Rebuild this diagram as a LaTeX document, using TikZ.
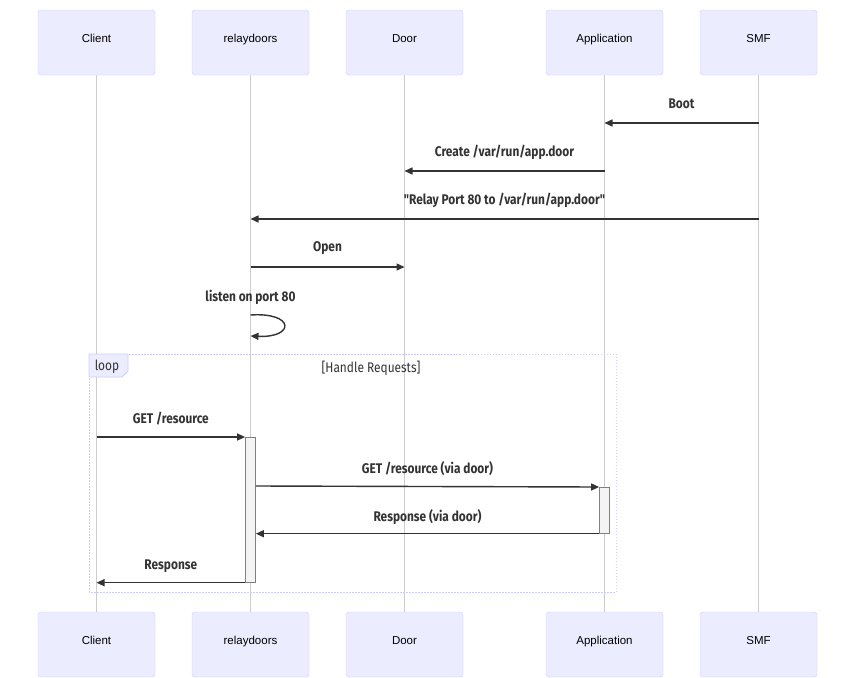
\documentclass[tikz,border=0pt]{standalone}
\usepackage{fontspec}
\setmainfont{Liberation Sans}
\newfontfamily\msgfont[FakeStretch=0.85]{Fira Sans}
\usepackage{tikz}
\usetikzlibrary{arrows.meta,positioning,calc}

\definecolor{actorfill}{HTML}{ECECFF}
\definecolor{actorline}{HTML}{CCCCFF}
\definecolor{lifegray}{HTML}{CCCCCC}
\definecolor{msgdark}{HTML}{333333}
\definecolor{actgray}{HTML}{F4F4F4}

\tikzset{
    actor/.style={draw=actorline, fill=actorfill, rounded corners=3pt, minimum width=117pt,
        minimum height=65pt, inner sep=0pt, text height=9pt, text depth=9pt,
        font=\fontsize{11.5}{14}\selectfont},
    lifeline/.style={draw=lifegray, line width=0.8pt},
    msg/.style={draw=msgdark, line width=1.4pt, -{Triangle[length=8pt,width=7pt]}},
    msglbl/.style={text=msgdark, font=\msgfont\bfseries\fontsize{14}{16}\selectfont, inner sep=0pt},
    looptxt/.style={text=msgdark, font=\msgfont\fontsize{14}{16}\selectfont, inner sep=0pt},
    activation/.style={draw=gray, fill=actgray, line width=0.7pt, minimum width=10pt, inner sep=0pt},
    loopbox/.style={draw=actorline, line width=1pt, dash pattern=on 1.5pt off 1.5pt},
}

% message between two lifelines at height #3
\newcommand{\seqmsg}[4]{%
    \coordinate (m-s) at (#1top |- 0,#3);
    \coordinate (m-e) at (#2top |- 0,#3);
    \draw[msg] (m-s) -- (m-e);
    \node[msglbl] at ($(m-s)!0.5!(m-e)+(0,-19)$) {#4};
}

\begin{document}
\begin{tikzpicture}[x=1pt, y=-1pt]
    \useasboundingbox (0,0) rectangle (855,678);

    % actors and lifelines
    \foreach \name/\x/\lbl in {client/96.5/Client, relay/250.5/relaydoors, door/404.5/Door,
                               app/604.5/Application, smf/758.5/SMF} {
        \node[actor] (\name top) at (\x,42.5) {\lbl};
        \node[actor] (\name bot) at (\x,644.5) {\lbl};
        \draw[lifeline] (\name top) -- (\name bot);
    }

    % setup messages
    \seqmsg{smf}{app}{123}{Boot}
    \seqmsg{app}{door}{171}{Create /var/run/app.door}
    \seqmsg{smf}{relay}{219}{"Relay Port 80 to /var/run/app.door"}
    \seqmsg{relay}{door}{267}{Open}

    % self message
    \coordinate (self-s) at (relaytop |- 0,315);
    \coordinate (self-e) at (relaytop |- 0,336);
    \draw[msg] (self-s) .. controls (295,312) and (295,338) .. (self-e);
    \node[msglbl] at ($(self-s)+(0,-18)$) {listen on port 80};

    % loop frame
    \draw[loopbox] (89,354) rectangle (616,592);
    \draw[draw=actorline, fill=actorfill, line width=0.8pt]
        (89,354) -- (128,354) -- (128,371) -- (122,377) -- (89,377) -- cycle;
    \node[looptxt] (looplbl) at (107,367) {loop};
    \node[looptxt] (loopcond) at (371,368) {[Handle Requests]};

    % activations
    \node[activation, minimum height=145pt, anchor=north] (actrelay) at (relaytop |- 0,437) {};
    \node[activation, minimum height=46pt, anchor=north] (actapp) at (apptop |- 0,487) {};

    % requests inside the loop
    \coordinate (c1) at (clienttop |- 0,437);
    \draw[msg] (c1) -- (actrelay.north west);
    \node[msglbl] at ($(c1)!0.5!(actrelay.north west)+(0,-18)$) {GET /resource};

    \coordinate (r1) at (actrelay.east |- 0,486);
    \draw[msg] (r1) -- (actapp.north west);
    \node[msglbl] at ($(r1)!0.5!(actapp.north west)+(0,-18)$) {GET /resource (via door)};

    \coordinate (r2) at (actrelay.east |- actapp.south);
    \draw[msg] (actapp.south west) -- (r2);
    \node[msglbl] at ($(r2)!0.5!(actapp.south west)+(0,-17)$) {Response (via door)};

    \coordinate (c2) at (clienttop |- actrelay.south);
    \draw[msg] (actrelay.south west) -- (c2);
    \node[msglbl] at ($(c2)!0.5!(actrelay.south west)+(0,-17)$) {Response};
\end{tikzpicture}
\end{document}
